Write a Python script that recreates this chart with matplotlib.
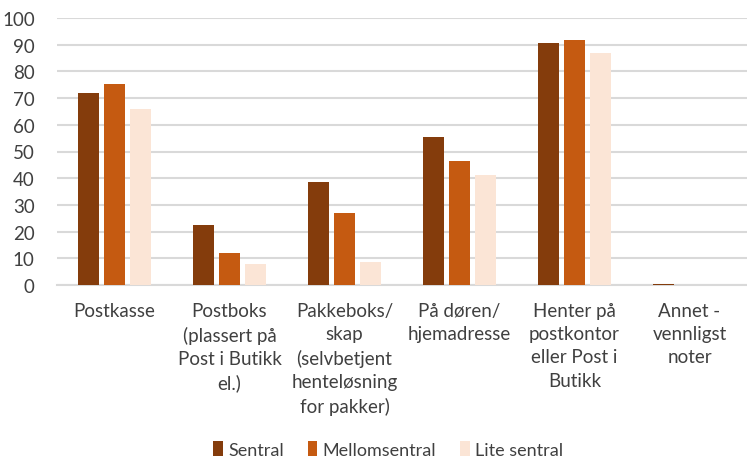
import numpy as np
import matplotlib
matplotlib.use("Agg")
import matplotlib.pyplot as plt

categories = [
    "Postkasse",
    "Postboks\n(plassert på\nPost i Butikk\nel.)",
    "Pakkeboks/\nskap\n(selvbetjent\nhenteløsning\nfor pakker)",
    "På døren/\nhjemadresse",
    "Henter på\npostkontor\neller Post i\nButikk",
    "Annet -\nvennligst\nnoter",
]
series_names = ["Sentral", "Mellomsentral", "Lite sentral"]
sentral = [71.8, 22.3, 38.5, 55.5, 90.8, 0.5]
mellomsentral = [75.4, 12.1, 27.1, 46.6, 91.9, 0.0]
lite_sentral = [65.8, 7.9, 8.6, 41.2, 86.9, 0.0]
colors = ["#843C0C", "#C55A11", "#FBE5D6"]

plt.rcParams['font.family'] = ['Lato', 'DejaVu Sans']
text_color = "#404040"

fig = plt.figure(figsize=(7.47, 4.6), dpi=100)
ax = fig.add_axes([57 / 747, 1 - 286 / 460, 1 - 57 / 747, (286 - 19) / 460])

x = np.arange(len(categories))
width = 0.18
offset = 0.226
for i, (vals, name) in enumerate(zip([sentral, mellomsentral, lite_sentral], series_names)):
    ax.bar(x + (i - 1) * offset, vals, width, color=colors[i], label=name,
           linewidth=0, zorder=3)

ax.set_xlim(-0.5, len(categories) - 0.5)
ax.set_ylim(0, 100)
ax.set_yticks(range(0, 101, 10))
ax.yaxis.grid(True, color="#D9D9D9", linewidth=1.5, zorder=0)
ax.set_axisbelow(True)
for s in ["top", "right", "left"]:
    ax.spines[s].set_visible(False)
ax.spines["bottom"].set_color("#D9D9D9")
ax.spines["bottom"].set_linewidth(1.5)
ax.tick_params(axis="both", length=0, colors=text_color, labelsize=13.5)
ax.tick_params(axis="y", pad=16)
ax.tick_params(axis="x", pad=12)
ax.set_xticks(x)
ax.set_xticklabels(categories, linespacing=1.45, va="top")

ax.legend(loc="center", bbox_to_anchor=(0.48, -0.615), ncol=3, frameon=False,
          fontsize=13, handlelength=0.55, handleheight=0.9, handletextpad=0.3,
          columnspacing=1.3, labelcolor=text_color)

fig.savefig("out.png", dpi=100)
